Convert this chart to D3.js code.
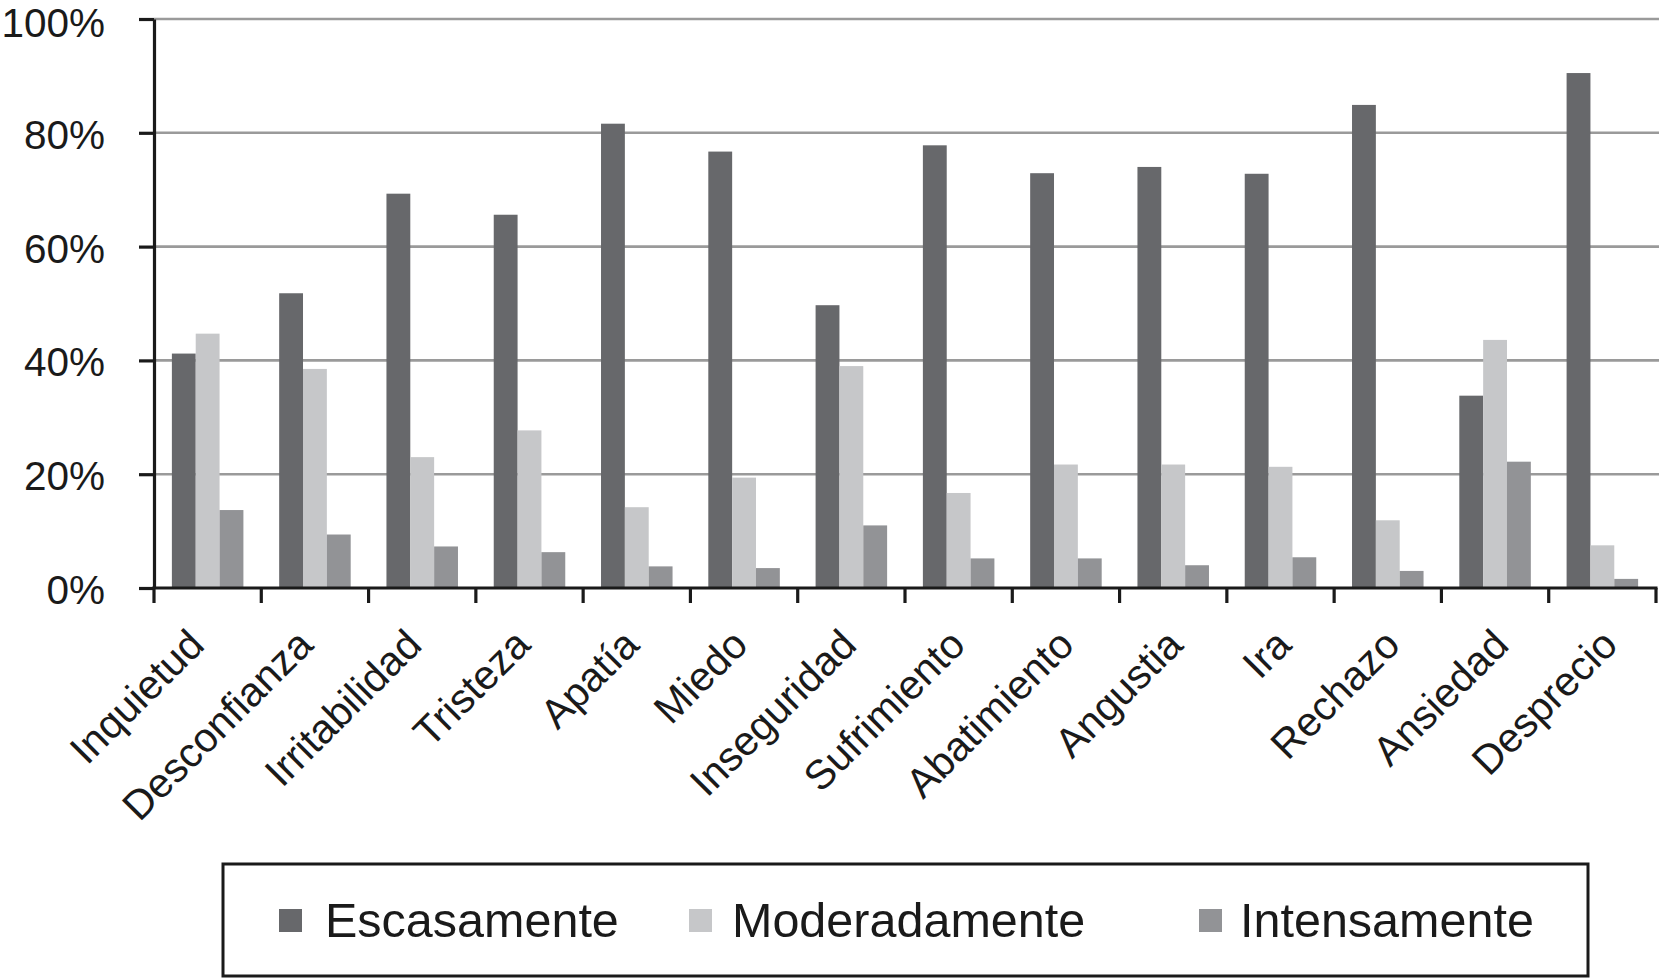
<!DOCTYPE html>
<html>
<head>
<meta charset="utf-8">
<script src="https://cdn.jsdelivr.net/npm/d3@7"></script>
<style>
  html, body { margin: 0; padding: 0; background: #ffffff; }
  svg { display: block; font-family: "Liberation Sans", Arial, Helvetica, sans-serif; }
</style>
</head>
<body>
<svg id="chart" width="1659" height="980"></svg>
<script>
const categories = ["Inquietud", "Desconfianza", "Irritabilidad", "Tristeza", "Apatía", "Miedo",
  "Inseguridad", "Sufrimiento", "Abatimiento", "Angustia", "Ira", "Rechazo", "Ansiedad", "Desprecio"];
const seriesNames = ["Escasamente", "Moderadamente", "Intensamente"];
const escasamente   = [41.2, 51.8, 69.3, 65.6, 81.6, 76.7, 49.7, 77.8, 72.9, 74.0, 72.8, 84.9, 33.8, 90.5];
const moderadamente = [44.7, 38.5, 23.0, 27.7, 14.2, 19.4, 39.0, 16.7, 21.7, 21.7, 21.3, 11.9, 43.6, 7.5];
const intensamente  = [13.7,  9.4,  7.3,  6.3,  3.8,  3.5, 11.0,  5.2,  5.2,  4.0,  5.4,  3.0, 22.2, 1.6];
const yTicks = [0, 20, 40, 60, 80, 100];

const seriesValues = [escasamente, moderadamente, intensamente];
const colors = ["#67686b", "#c6c7c9", "#929396"];

const svg = d3.select("#chart");
const plot = { left: 154, right: 1656, top: 19, bottom: 588 };

const x0 = d3.scaleBand().domain(categories).range([plot.left, plot.right])
  .paddingInner(1/3).paddingOuter(1/6);
const step = x0.step();
const x1 = d3.scaleBand().domain(seriesNames).range([0, x0.bandwidth()]);
const y = d3.scaleLinear().domain([0, 100]).range([plot.bottom, plot.top]);
// label placement scale (labels drift slightly wider than the bands in the reference)
const xLabel = d3.scalePoint().domain(categories).range([152 + 54.35, 1674 - 54.35]);

// gridlines
svg.append("g").selectAll("line").data(yTicks.filter(d => d > 0)).join("line")
  .attr("x1", plot.left).attr("x2", plot.right + 3)
  .attr("y1", d => y(d)).attr("y2", d => y(d))
  .attr("stroke", "#9a9a9a").attr("stroke-width", 2.6);

// bars
const rows = categories.map((c, i) => ({ cat: c, vals: seriesNames.map((s, j) => ({ s, v: seriesValues[j][i], j })) }));
svg.append("g").selectAll("g").data(rows).join("g")
  .attr("transform", d => `translate(${x0(d.cat)},0)`)
  .selectAll("rect").data(d => d.vals).join("rect")
  .attr("x", d => x1(d.s))
  .attr("width", x1.bandwidth())
  .attr("y", d => y(d.v))
  .attr("height", d => y(0) - y(d.v))
  .attr("fill", d => colors[d.j]);

// y axis
const yAxis = d3.axisLeft(y).tickValues(yTicks).tickFormat(d => d + "%")
  .tickSize(15).tickSizeOuter(0).tickPadding(34);
const yg = svg.append("g").attr("transform", `translate(${plot.left},0)`).call(yAxis);
yg.select(".domain").attr("stroke", "#1a1a1a").attr("stroke-width", 3.2);
yg.selectAll(".tick line").attr("stroke", "#1a1a1a").attr("stroke-width", 3.2);
yg.selectAll(".tick text").attr("font-size", 40.5).attr("fill", "#1a1a1a")
  .attr("font-family", "Liberation Sans, Arial, sans-serif")
  .attr("dy", null)
  .attr("y", d => (d === 100 ? 17.5 : 15.5));

// x axis line
const xg = svg.append("g");
xg.append("line").attr("x1", plot.left - 1.6).attr("x2", plot.right + 1.5)
  .attr("y1", y(0)).attr("y2", y(0)).attr("stroke", "#1a1a1a").attr("stroke-width", 3.2);
const boundaries = categories.map(c => x0(c) - (step - x0.bandwidth()) / 2);
boundaries.push(plot.right);
xg.selectAll("line.tk").data(boundaries).join("line").attr("class", "tk")
  .attr("x1", d => d).attr("x2", d => d)
  .attr("y1", y(0)).attr("y2", y(0) + 15)
  .attr("stroke", "#1a1a1a").attr("stroke-width", 3.2);

// x labels
xg.selectAll("text").data(categories).join("text")
  .attr("transform", d => `translate(${xLabel(d)},${y(0) + 59}) rotate(-45)`)
  .attr("text-anchor", "end")
  .attr("font-size", 41)
  .attr("fill", "#1a1a1a")
  .text(d => d);

// legend
const lg = svg.append("g");
lg.append("rect").attr("x", 223).attr("y", 864).attr("width", 1365).attr("height", 112)
  .attr("fill", "none").attr("stroke", "#1a1a1a").attr("stroke-width", 3);
const legendX = [279, 689, 1199];
const legendTextX = [325, 732, 1240];
const items = lg.selectAll("g.item").data(seriesNames).join("g").attr("class", "item");
items.append("rect").attr("x", (d, i) => legendX[i]).attr("y", 909)
  .attr("width", 23).attr("height", 23).attr("fill", (d, i) => colors[i]);
items.append("text").attr("x", (d, i) => legendTextX[i]).attr("y", 937)
  .attr("font-size", 48.5).attr("fill", "#1a1a1a")
  .text(d => d);
</script>
</body>
</html>
